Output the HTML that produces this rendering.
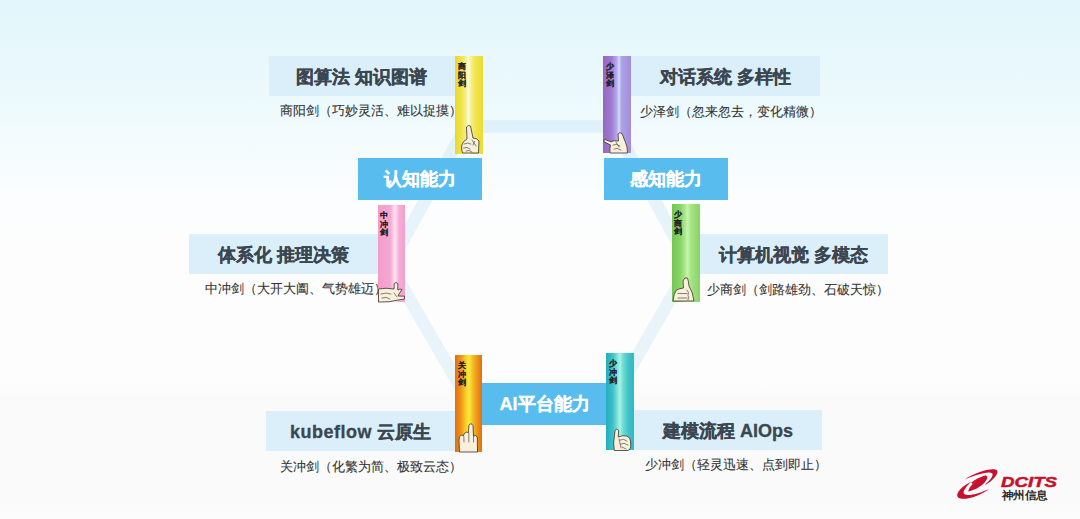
<!DOCTYPE html>
<html><head><meta charset="utf-8">
<style>
*{margin:0;padding:0;box-sizing:border-box}
html,body{width:1080px;height:519px;overflow:hidden}
body{position:relative;font-family:"Liberation Sans",sans-serif;
 background:linear-gradient(180deg,#e2f6fb 0px,#ebf9fc 90px,#f4fbfd 145px,#fbfdfe 195px,#fdfdfd 240px,#fdfdfd 375px,#fafafa 400px,#fafafa 495px,#fcfcfc 519px);}
.abs{position:absolute}
.lbl{position:absolute;background:#daeff9;-webkit-text-stroke:0.3px #3b4650;height:40px;color:#3b4650;font-weight:bold;font-size:18px;line-height:42px;text-align:center;white-space:nowrap}
.sub{position:absolute;font-size:13px;color:#333;-webkit-text-stroke:0.1px #333;white-space:nowrap;line-height:14px}
.cap{position:absolute;background:#58bcee;-webkit-text-stroke:0.25px #fff;width:124px;height:42px;color:#fff;font-weight:bold;font-size:18px;line-height:42px;text-align:center;white-space:nowrap}
.bar{position:absolute;width:28px;height:98px}
.bt{position:absolute;left:2.5px;top:7px;width:8px;font-size:7.5px;line-height:8.6px;font-weight:bold;color:#222;-webkit-text-stroke:0.12px #222;text-align:center}
.hand{position:absolute;left:0;bottom:0}
</style></head><body>

<svg class="abs" style="left:0;top:0" width="1080" height="519">
 <polygon points="389.5,265 466,126.5 614,126.5 690,265 610,403.5 470,403.5" fill="none" stroke="rgb(160,210,240)" stroke-opacity="0.22" stroke-width="12.5" stroke-linejoin="miter"/>
</svg>

<!-- TL -->
<div class="lbl" style="left:269px;top:56px;width:186px">图算法 知识图谱</div>
<div class="sub" style="left:280px;top:104px">商阳剑（巧妙灵活、难以捉摸）</div>
<div class="bar" style="left:455px;top:56px;background:linear-gradient(90deg,#e8d92e 0%,#efe244 20%,#f6ee80 38%,#fffcdc 48%,#f7ef86 58%,#f0e44a 75%,#eadb34 100%)">
 <div class="bt">商阳剑</div>
 <svg class="hand" width="28" height="98" viewBox="0 0 28 98" style="top:0"><path fill="#f7f0dc" stroke="#3a3028" stroke-width="0.8" stroke-linejoin="round" d="M12,83 L11.5,71 Q13,68.5 15.5,70 L18,82 Q22,82 24,85 L23.5,97 L7.5,97 Q6,93 6.8,89 Q8,85 12,83 Z"/><path fill="none" stroke="#3a3028" stroke-width="0.6" stroke-linecap="round" d="M9,88 Q13,86 16,88 M8.5,92 Q12,90 15,93 M11,95 Q14,93 17,96 M17,84 L21,90 M19.5,85.5 L18,89"/></svg>
</div>
<div class="cap" style="left:358px;top:158px">认知能力</div>

<!-- TR -->
<div class="lbl" style="left:631px;top:56px;width:189px">对话系统 多样性</div>
<div class="sub" style="left:640px;top:105px">少泽剑（忽来忽去，变化精微）</div>
<div class="bar" style="left:603px;top:56px;height:97px;background:linear-gradient(90deg,#9766c0 0%,#9f7ad0 30%,#b4acee 50%,#d8dcff 57%,#aca2e8 66%,#a48cda 100%)">
 <div class="bt" style="left:3px">少泽剑</div>
 <svg class="hand" width="28" height="98" viewBox="0 0 28 98" style="top:0"><path fill="#f7f0dc" stroke="#3a3028" stroke-width="0.8" stroke-linejoin="round" d="M15.5,85 L15,78 Q17,75.5 19,77.5 L22.5,86.5 Q24.5,90 24.5,97 L7,97 Q6.5,92 7.5,89 L1,85.8 Q0.5,83.5 2,83.5 L8,85.8 Q11,84 15.5,85 Z"/><path fill="none" stroke="#3a3028" stroke-width="0.6" stroke-linecap="round" d="M10,89 Q14,87 17,90 M11,93 Q14,91 18,94 M13,86 L16,91"/></svg>
</div>
<div class="cap" style="left:604px;top:158px">感知能力</div>

<!-- L -->
<div class="lbl" style="left:189px;top:234px;width:190px">体系化 推理决策</div>
<div class="sub" style="left:205px;top:282px">中冲剑（大开大阖、气势雄迈）</div>
<div class="bar" style="left:378px;top:205px;width:27px;height:97px;background:linear-gradient(90deg,#f49ccc 0%,#f6a6d2 45%,#fde4f2 63%,#f7acd6 78%,#f39ecd 100%)">
 <div class="bt" style="left:1.5px">中冲剑</div>
 <svg class="hand" width="28" height="98" viewBox="0 0 28 98" style="top:0"><path fill="#f7f0dc" stroke="#3a3028" stroke-width="0.8" stroke-linejoin="round" d="M0.5,84 Q8,82.5 16,84 L16.2,78.5 Q18,76.5 19.8,78.5 L19.8,85 Q22,83.5 24,84.5 L21,89 L20,91 L26.5,91.2 L26.5,94 L20,95 Q12,97.5 0.5,97 Z"/><path fill="none" stroke="#3a3028" stroke-width="0.6" stroke-linecap="round" d="M3,89 Q8,87 13,89 M4,93 Q8,91 12,94 M16,88 L19,92"/></svg>
</div>

<!-- R -->
<div class="lbl" style="left:699px;top:234px;width:189px">计算机视觉 多模态</div>
<div class="sub" style="left:707px;top:283px">少商剑（剑路雄劲、石破天惊）</div>
<div class="bar" style="left:672px;top:204px;width:28px;height:98px;background:linear-gradient(90deg,#74c654 0%,#88d468 30%,#aee88e 47%,#c6f5aa 55%,#a6e486 67%,#8ad266 100%)">
 <div class="bt" style="left:1.5px">少商剑</div>
 <svg class="hand" width="28" height="98" viewBox="0 0 28 98" style="top:0"><path fill="#f7f0dc" stroke="#3a3028" stroke-width="0.8" stroke-linejoin="round" d="M11.5,84 L11,77 Q12.5,72.5 15.5,74 Q16.5,77 17,82 Q21,88 22,97 L1,97 Q1.5,90 4.5,86 Q7,84.5 11.5,84 Z"/><path fill="none" stroke="#3a3028" stroke-width="0.6" stroke-linecap="round" d="M6,89.5 L15,89.5 M6,94 L15,94 M15,86 Q17.5,88 16,91.5 Q17.5,93 16,96"/></svg>
</div>

<!-- BL -->
<div class="lbl" style="left:266px;top:411px;width:189px"><span style="letter-spacing:0.5px">kubeflow</span> 云原生</div>
<div class="sub" style="left:280px;top:460px">关冲剑（化繁为简、极致云态）</div>
<div class="bar" style="left:455px;top:355px;width:27px;height:97px;background:linear-gradient(90deg,#e26e10 0%,#ee9418 22%,#f8d42c 42%,#fbe83c 52%,#f4c028 65%,#ec8c18 85%,#e27010 100%)">
 <div class="bt">关冲剑</div>
 <svg class="hand" width="28" height="98" viewBox="0 0 28 98" style="top:0"><path fill="#f7f0dc" stroke="#3a3028" stroke-width="0.8" stroke-linejoin="round" d="M4.5,97 L4,86 L4.3,82 Q6,79 8.5,80.5 L9,79 Q11,76 13.5,77.5 L13.8,70.5 Q15.8,67 18,70.5 L18.5,81 Q20.5,79.5 22.3,82 L22.5,97 Z"/><path fill="none" stroke="#3a3028" stroke-width="0.6" stroke-linecap="round" d="M8.8,81 L9,87 M13.8,78 L13.8,87 M18.5,81 L18.5,87"/></svg>
</div>
<div class="cap" style="left:482px;top:383px;width:125px">AI平台能力</div>

<!-- BR -->
<div class="lbl" style="left:634px;top:410px;width:188px">建模流程 AIOps</div>
<div class="sub" style="left:645px;top:458px">少冲剑（轻灵迅速、点到即止）</div>
<div class="bar" style="left:606px;top:353px;height:97px;background:linear-gradient(90deg,#22aebe 0%,#3ec2c8 25%,#86e6dc 42%,#a6f4e6 50%,#74dcd4 60%,#40c4c8 80%,#30b8c4 100%)">
 <div class="bt" style="left:3px">少冲剑</div>
 <svg class="hand" width="28" height="98" viewBox="0 0 28 98" style="top:0"><path fill="#f7f0dc" stroke="#3a3028" stroke-width="0.8" stroke-linejoin="round" d="M8.3,97.5 L7.6,90 L9,77.5 Q10.8,74.5 12.7,77.5 L12.2,84 Q16,82 21,83 Q24.5,85 24.5,88 L24.8,94 Q24,97 22,97.5 Z"/><path fill="none" stroke="#3a3028" stroke-width="0.6" stroke-linecap="round" d="M14,87 Q18,85 21,88 M14.5,91 Q18,89 22,92 M16,94 L20,96 M13,86 L15,95"/></svg>
</div>

<!-- logo -->
<svg class="abs" style="left:950px;top:462px" width="52" height="42" viewBox="0 0 643 519">
 <path fill="#c8102e" d="M180,215 C300,140 460,80 560,92 C610,100 590,170 500,240 C470,262 450,275 430,285 C500,220 545,165 520,140 C480,110 330,160 180,215 Z"/>
 <path fill="#c8102e" d="M492,330 C380,410 220,470 130,452 C60,440 80,360 190,285 C215,270 240,255 262,245 C180,320 150,380 180,400 C230,430 380,380 492,330 Z"/>
 <path fill="#c8102e" d="M225,365 C235,300 320,225 400,178 C455,148 480,185 445,232 C405,290 320,345 225,365 Z"/>
 <path fill="none" stroke="#c8102e" stroke-width="22" d="M270,262 C320,222 380,196 420,190"/>
</svg>
<svg class="abs" style="left:1000px;top:472px" width="62" height="32" viewBox="0 0 62 32">
 <text x="1" y="14.6" font-family="Liberation Sans" font-weight="bold" font-style="italic" font-size="14.5" fill="#c8102e" stroke="#c8102e" stroke-width="0.5" textLength="56" lengthAdjust="spacingAndGlyphs">DCITS</text>
 <text x="1.5" y="26.5" font-family="Liberation Sans" font-weight="bold" font-size="11" fill="#2a2a2a" textLength="46" lengthAdjust="spacingAndGlyphs">神州信息</text>
</svg>
</body></html>
